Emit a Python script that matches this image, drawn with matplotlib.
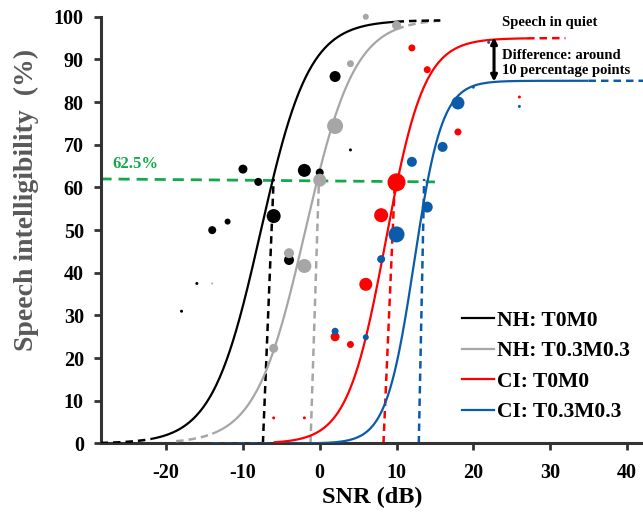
import numpy as np
import matplotlib
matplotlib.use('Agg')
import matplotlib.pyplot as plt
from matplotlib.lines import Line2D

plt.rcParams['font.family'] = ['Liberation Serif', 'DejaVu Serif']
plt.rcParams['font.weight'] = 'bold'
plt.rcParams['axes.unicode_minus'] = False

# colours
c_nh0 = 'black'
c_nh3 = '#a6a6a6'
c_ci0 = '#ff0000'
c_ci3 = '#0a5cab'
c_green = '#13a84a'

# measured points (SNR dB, % correct, marker diameter in px ~ number of trials)
nh0_snr = [-18, -16, -14, -12, -10, -8, -6, -4, -2, 0, 2, 4]
nh0_pc = [31, 37.5, 50, 52, 64.3, 61.3, 53.3, 43, 64, 63.5, 86, 68.8]
nh0_n = [3, 3, 8, 6, 9, 8, 14, 10, 13, 8, 11, 3]

nh3_snr = [-14, -6, -4, -2, 0, 2, 4, 6, 10]
nh3_pc = [37.5, 22.3, 44.6, 41.6, 61.7, 74.4, 89, 100, 98]
nh3_n = [2, 9, 10, 14, 13, 16, 7, 6, 9]

ci0_snr = [-6, -2, 2, 4, 6, 8, 10, 12, 14, 18, 26]
ci0_pc = [6, 6, 25, 23.2, 37.3, 53.5, 61.2, 92.7, 87.6, 73, 81.2]
ci0_n = [3, 3, 9, 7, 13, 14, 18, 7, 7, 7, 3]

ci3_snr = [2, 6, 8, 10, 12, 14, 16, 18, 20, 22, 26]
ci3_pc = [26.3, 24.9, 43.2, 49, 66, 55.4, 69.5, 79.8, 83.5, 94, 79]
ci3_n = [7, 6, 8, 16, 10, 11, 10, 13, 3, 3, 3]

# logistic fits: midpoint, slope, upper asymptote
nh0_fit = (-7.7, 0.317, 99.2)
nh3_fit = (-1.9, 0.31, 99.5)
ci0_fit = (8.6, 0.40, 95.0)
ci3_fit = (12.3, 0.55, 85.0)

# SNR at 62.5% (bottom, top of the dashed drop lines)
nh0_srt = (-7.4, -6.0)
nh3_srt = (-1.2, -0.1)
ci0_srt = (8.3, 9.8)
ci3_srt = (12.9, 13.6)
srt_level = 62

labels = ['NH: T0M0', 'NH: T0.3M0.3', 'CI: T0M0', 'CI: T0.3M0.3']

XMIN, XMAX = -28.55, 42.1


def logistic(x, fit):
    x0, k, top = fit
    return top / (1 + np.exp(-k * (x - x0)))


def draw_fit(ax, fit, col, solid, dashed):
    xs = np.linspace(solid[0], solid[1], 300)
    ax.plot(xs, logistic(xs, fit), color=col, lw=1.6, solid_capstyle='butt', zorder=3)
    for d in dashed:
        xd = np.linspace(d[0], d[1], 50)
        ax.plot(xd, logistic(xd, fit), color=col, lw=1.8, ls=(0, (3, 2)), zorder=3)


fig = plt.figure(figsize=(6.43, 5.13), dpi=100)
ax = fig.add_axes([0.1563, 0.1355, 0.8437, 0.8318])

# green 62.5% line
ax.plot([XMIN, 15], [62, 61.3], color=c_green, lw=2.0, ls=(0, (4, 2.5)), zorder=2, clip_on=False)
ax.text(-27.0, 65.6, '62.5%', color=c_green, fontsize=12, va='center', ha='left')

# vertical drop lines
for srt, col in [(nh0_srt, c_nh0), (nh3_srt, c_nh3), (ci0_srt, c_ci0), (ci3_srt, c_ci3)]:
    ax.plot([srt[0], srt[1]], [0, srt_level], color=col, lw=1.8, ls=(0, (3, 2)), zorder=2)

# fitted curves
draw_fit(ax, nh3_fit, c_nh3, (-14, 10), [(-18.7, -14), (10, 15.7)])
draw_fit(ax, nh0_fit, c_nh0, (-22, 10), [(XMIN, -22), (10, 15.7)])
draw_fit(ax, ci3_fit, c_ci3, (-6, 35), [(-14, -6), (35, XMAX)])
draw_fit(ax, ci0_fit, c_ci0, (-6, 27), [(27, 32)])

# points
px2pt = 72.0 / 100
for snr, pc, n, col in [(nh0_snr, nh0_pc, nh0_n, c_nh0), (nh3_snr, nh3_pc, nh3_n, c_nh3),
                        (ci0_snr, ci0_pc, ci0_n, c_ci0), (ci3_snr, ci3_pc, ci3_n, c_ci3)]:
    s = (np.array(n) * px2pt) ** 2
    ax.scatter(snr, pc, s=s, color=col, edgecolors='none', zorder=4, clip_on=False)

# annotation on the right
ax.text(23.8, 98.6, 'Speech in quiet', fontsize=10.5, va='center', ha='left')
ax.text(23.8, 91.0, 'Difference: around', fontsize=10.5, va='center', ha='left')
ax.text(23.8, 87.3, '10 percentage points', fontsize=10.5, va='center', ha='left')
ax.annotate('', xy=(22.7, 95.2), xytext=(22.7, 84.8),
            arrowprops=dict(arrowstyle='<|-|>', color='black', lw=2.2, mutation_scale=9,
                            shrinkA=0, shrinkB=0))

ax.set_xlim(XMIN, XMAX)
ax.set_ylim(0, 100)
ax.set_xticks([-20, -10, 0, 10, 20, 30, 40])
ax.set_yticks(range(0, 101, 10))

for sp in ['top', 'right']:
    ax.spines[sp].set_visible(False)
for sp in ['left', 'bottom']:
    ax.spines[sp].set_linewidth(2.2)
    ax.spines[sp].set_color('#333333')
ax.tick_params(axis='both', direction='out', length=5, width=2, color='#333333',
               labelsize=14.5)
ax.tick_params(axis='x', pad=9)
ax.tick_params(axis='y', pad=7)
for lab in ax.get_xticklabels() + ax.get_yticklabels():
    lab.set_fontweight('bold')

ax.set_xlabel('SNR (dB)', fontsize=17.5, fontweight='bold', labelpad=3)
ax.set_ylabel('Speech intelligibility  (%)', fontsize=20, fontweight='bold', color='#595959')
ax.yaxis.set_label_coords(-0.113, 0.571)

handles = [Line2D([], [], color=c, lw=1.6) for c in [c_nh0, c_nh3, c_ci0, c_ci3]]
fig.legend(handles, labels, loc='upper left', bbox_to_anchor=(0.718, 0.394),
           frameon=False, handlelength=1.5, handletextpad=0.15,
           labelspacing=0.48, borderpad=0, borderaxespad=0,
           prop={'weight': 'bold', 'size': 15.5})

fig.savefig('out.png', dpi=100)
